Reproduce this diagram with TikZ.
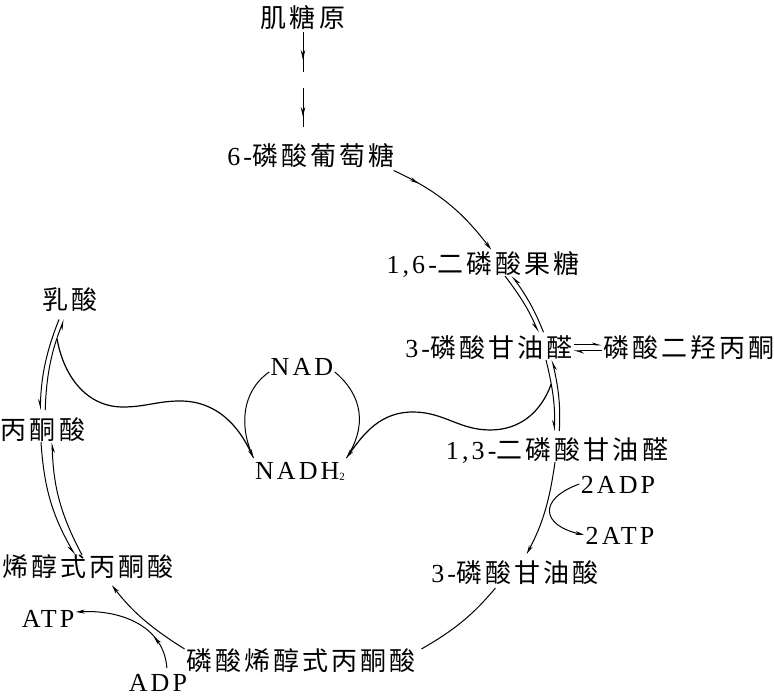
\documentclass[tikz,border=0pt]{standalone}
\usepackage{fontspec}
\setmainfont{Liberation Serif}[LetterSpace=12]
\newfontfamily\cjk{Noto Sans CJK SC}[LetterSpace=12]
\usetikzlibrary{arrows.meta,decorations.markings}
\tikzset{
  every node/.style={inner sep=1pt, text height=20pt, text depth=1pt, font=\fontsize{26}{30}\selectfont},
  fwd/.style={-{Stealth[length=9pt,width=4pt]}},
  half/.style={-{Stealth[length=9pt,width=5pt,right]}},
  halfl/.style={-{Stealth[length=8pt,width=5pt,left]}},
  midtip/.style={postaction={decorate, decoration={markings,
      mark=at position #1 with {\arrow{Stealth[length=9pt,width=4pt]}}}}},
  wave/.style={line width=1.2pt}
}
\begin{document}
\begin{tikzpicture}[x=1pt, y=1pt, line width=1pt]
  \useasboundingbox (0,0) rectangle (774,698);

  \node (glyc) at (303,680) {\cjk 肌糖原};
  \node (g6p)  at (311,542) {6-{\cjk 磷酸葡萄糖}};
  \node (f16)  at (483,434) {1,6-{\cjk 二磷酸果糖}};
  \node (g3p)  at (489,350) {3-{\cjk 磷酸甘油醛}};
  \node (dhap) at (689,350) {\cjk 磷酸二羟丙酮};
  \node (bpg)  at (557,248) {1,3-{\cjk 二磷酸甘油醛}};
  \node (adp2) at (618,214) {2ADP};
  \node (atp2) at (620,163) {2ATP};
  \node (pga)  at (515,125) {3-{\cjk 磷酸甘油酸}};
  \node (pep)  at (301,37)  {\cjk 磷酸烯醇式丙酮酸};
  \node (enol) at (88,131)  {\cjk 烯醇式丙酮酸};
  \node (atp)  at (48,80)   {ATP};
  \node (adp)  at (158,16)  {ADP};
  \node (pyr)  at (43,268)  {\cjk 丙酮酸};
  \node (lac)  at (70,398)  {\cjk 乳酸};
  \node (nad)  at (302,332) {NAD};
  \node (nadh) at (300,228) {NADH\raisebox{-1pt}{\fontsize{11}{11}\selectfont 2}};

  \draw[dash pattern=on 40pt off 16pt, shorten <=2.5pt, shorten >=16.5pt,
    postaction={decorate, decoration={markings,
      mark=at position 30pt with {\arrow[solid]{Stealth[length=10pt,width=4.5pt]}},
      mark=at position 87pt with {\arrow[solid]{Stealth[length=10pt,width=4.5pt]}}}}]
    (glyc.south) -- (glyc.south |- g6p.north);

  \draw[fwd, shorten <=6pt, shorten >=3pt, midtip=0.25] ([xshift=-8pt]g6p.south east) to[bend left=14] ([xshift=10pt]f16.north);

  \draw[half, shorten >=4pt] ([xshift=22pt]f16.south) to[bend left=7] ([xshift=51pt]g3p.north);
  \draw[half, shorten <=4pt] ([xshift=56pt]g3p.north) to[bend right=7] ([xshift=29pt]f16.south);

  \draw[halfl] ([yshift=3pt]g3p.east) -- ([yshift=3pt]dhap.west);
  \draw[halfl] ([yshift=-3pt]dhap.west) -- ([yshift=-3pt]g3p.east);

  \draw[half, shorten >=7pt] ([xshift=57pt]g3p.south) to[bend left=8] coordinate[pos=0.3] (j2) ([xshift=-3pt]bpg.north);
  \draw[half, shorten <=7pt] ([xshift=2pt]bpg.north) to[bend right=8] ([xshift=63pt]g3p.south);

  \draw[fwd, shorten >=8pt] ([xshift=-2pt]bpg.south) to[bend left=10] ([xshift=8pt]pga.north);
  \draw[fwd] (adp2.west) to[out=200, in=167, looseness=2.2] (atp2.west);

  \draw[shorten <=4pt] ([xshift=-17pt]pga.south) to[bend left=10] ([xshift=4pt]pep.north east);
  \draw[fwd, shorten >=8pt] (pep.north west) to[bend left=10] ([xshift=19pt]enol.south);
  \draw[fwd, shorten <=2pt, midtip=0.3] ([xshift=9pt]adp.north) to[out=94, in=3, looseness=1.05] ([yshift=6pt]atp.east);

  \draw[half] ([xshift=-6pt]enol.north) to[bend left=13] ([xshift=9pt]pyr.south);
  \draw[half] ([xshift=-2pt]pyr.south) to[bend right=13] ([xshift=-13pt]enol.north);

  \draw[half, shorten <=8pt, shorten >=8pt] ([xshift=2pt]pyr.north) to[bend left=10] coordinate[pos=0.75] (j1) ([xshift=-3pt]lac.south);
  \draw[half, shorten <=8pt, shorten >=8pt] ([xshift=-8pt]lac.south) to[bend right=10] ([xshift=-3pt]pyr.north);

  \draw ([yshift=-6pt]nad.west) to[out=215, in=115] (nadh.north west);
  \draw ([yshift=-6pt]nad.east) to[out=-40, in=57, looseness=1.1] (nadh.north east);

  \draw[fwd, wave] (j1) to[out=-80, in=180] (123,291) to[out=0, in=180] (180,297) to[out=0, in=115] (nadh.north west);
  \draw[fwd, wave] (j2) to[out=-110, in=0] (490,268) to[out=180, in=0] (413,286) to[out=180, in=55] (nadh.north east);
\end{tikzpicture}
\end{document}
